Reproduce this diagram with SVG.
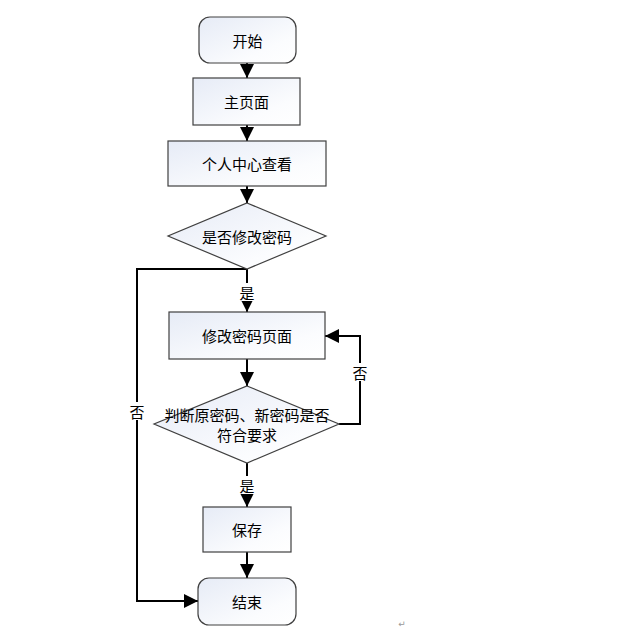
<svg xmlns="http://www.w3.org/2000/svg" width="623" height="644" viewBox="0 0 623 644">
<defs>
<linearGradient id="g" x1="0" y1="0" x2="1" y2="1">
<stop offset="0" stop-color="#e6ebf6"/>
<stop offset="0.7" stop-color="#fbfcfe"/>
<stop offset="1" stop-color="#ffffff"/>
</linearGradient>
<marker id="ah" viewBox="0 0 10 10" refX="10" refY="5" markerWidth="14" markerHeight="14" markerUnits="userSpaceOnUse" orient="auto">
<path d="M0,0 L10,5 L0,10 Z" fill="#000"/>
</marker>
<style>
.n{fill:url(#g);stroke:#404040;stroke-width:1.2}
.t{font-family:"Noto Sans CJK SC","Liberation Sans",sans-serif;font-size:15px;fill:#000;text-anchor:middle;dominant-baseline:central}
.c{fill:none;stroke:#000;stroke-width:2;marker-end:url(#ah)}
</style>
</defs>
<rect width="623" height="644" fill="#fff"/>
<g id="connectors">
<line class="c" x1="247" y1="63" x2="247" y2="78"/>
<line class="c" x1="247" y1="125" x2="247" y2="141"/>
<line class="c" x1="247" y1="186" x2="247" y2="203"/>
<line class="c" x1="247" y1="269" x2="247" y2="312"/>
<polyline class="c" points="247,269 137,269 137,601 198,601"/>
<line class="c" x1="247" y1="359" x2="247" y2="386"/>
<polyline class="c" points="339,424 360,424 360,336 325,336"/>
<line class="c" x1="247" y1="463" x2="247" y2="507"/>
<line class="c" x1="247" y1="552" x2="247" y2="578"/>
<rect x="239" y="283" width="16" height="18" fill="#fff"/>
<text class="t" x="247" y="292">是</text>
<rect x="352" y="363" width="16" height="18" fill="#fff"/>
<text class="t" x="360" y="372">否</text>
<rect x="129" y="402" width="16" height="18" fill="#fff"/>
<text class="t" x="137" y="411">否</text>
<rect x="239" y="476" width="16" height="18" fill="#fff"/>
<text class="t" x="247" y="485">是</text>
</g>
<g id="start">
<rect class="n" x="199" y="17" width="97" height="46" rx="11"/>
<text class="t" x="247.5" y="40">开始</text>
</g>
<g id="home">
<rect class="n" x="193" y="78" width="107" height="47"/>
<text class="t" x="246.5" y="101.5">主页面</text>
</g>
<g id="profile">
<rect class="n" x="168" y="141" width="158" height="45"/>
<text class="t" x="247" y="163.5">个人中心查看</text>
</g>
<g id="decide1">
<polygon class="n" points="247,203 326,236 247,269 168,236"/>
<text class="t" x="247" y="236">是否修改密码</text>
</g>
<g id="changepw">
<rect class="n" x="169" y="312" width="156" height="47"/>
<text class="t" x="247" y="335.5">修改密码页面</text>
</g>
<g id="decide2">
<polygon class="n" points="247,386 339,424 247,463 154,424"/>
<text class="t" x="247" y="414">判断原密码、新密码是否</text>
<text class="t" x="247" y="434">符合要求</text>
</g>
<g id="save">
<rect class="n" x="203" y="507" width="88" height="45"/>
<text class="t" x="247" y="529.5">保存</text>
</g>
<g id="end">
<rect class="n" x="198" y="578" width="98" height="47" rx="11"/>
<text class="t" x="247" y="601.5">结束</text>
</g>
<text x="402" y="627" font-family="DejaVu Sans,sans-serif" font-size="9" fill="#999" text-anchor="middle">↵</text>
</svg>
